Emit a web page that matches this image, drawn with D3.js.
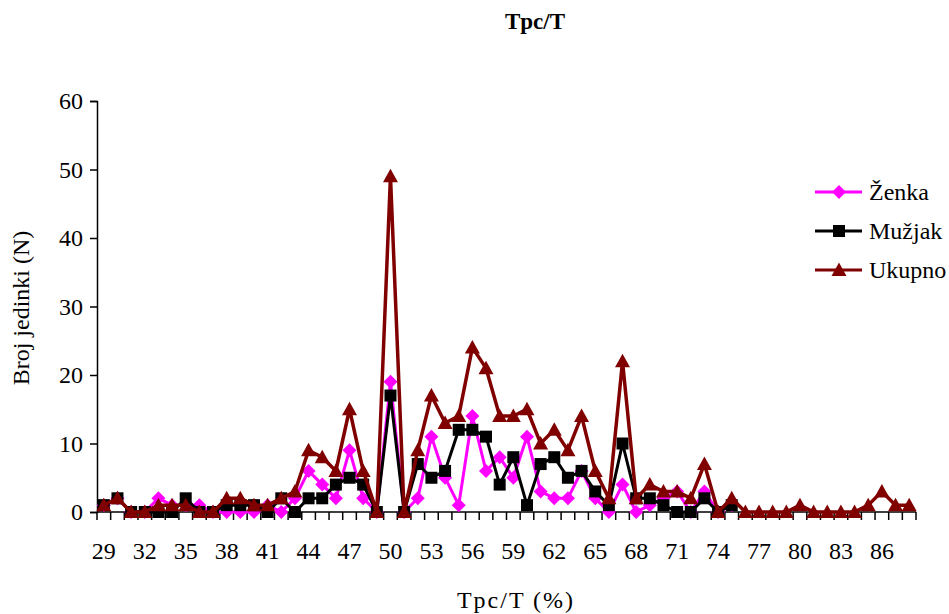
<!DOCTYPE html>
<html>
<head>
<meta charset="utf-8">
<script src="https://cdn.jsdelivr.net/npm/d3@7/dist/d3.min.js"></script>
<style>
body { margin: 0; background: #fff; }
svg { display: block; font-family: "Liberation Serif", "Times New Roman", serif; }
</style>
</head>
<body>
<svg id="chart" width="949" height="614"></svg>
<script>
// categories on the x axis (Tpc/T in %)
const categories = [29, 30, 31, 32, 33, 34, 35, 36, 37, 38, 39, 40, 41, 42, 43, 44, 45, 46, 47, 48,
	49, 50, 51, 52, 53, 54, 55, 56, 57, 58, 59, 60, 61, 62, 63, 64, 65, 66, 67, 68,
	69, 70, 71, 72, 73, 74, 75, 76, 77, 78, 79, 80, 81, 82, 83, 84, 85, 86, 87, 88]
const xLabels = [29, 32, 35, 38, 41, 44, 47, 50, 53, 56, 59, 62, 65, 68, 71, 74, 77, 80, 83, 86]
const yTicks = [0, 10, 20, 30, 40, 50, 60]

// null = no value for that class
const zenka = [1, 2, 0, 0, 2, 1, 1, 1, 0, 0, 0, 0, 1, 0, 2, 6, 4, 2, 9, 2,
	0, 19, 0, 2, 11, 5, 1, 14, 6, 8, 5, 11, 3, 2, 2, 6, 2, 0, 4, 0,
	1, 2, 3, 0, 3, 0, 1, null, null, null, null, null, null, null, null, null, null, null, null, null]
const muzjak = [1, 2, 0, 0, 0, 0, 2, 0, 0, 1, 1, 1, 0, 2, 0, 2, 2, 4, 5, 4,
	0, 17, 0, 7, 5, 6, 12, 12, 11, 4, 8, 1, 7, 8, 5, 6, 3, 1, 10, 2,
	2, 1, 0, 0, 2, 0, 1, null, null, null, null, null, null, null, null, null, null, null, null, null]
const ukupno = [1, 2, 0, 0, 1, 1, 1, 0, 0, 2, 2, 1, 1, 2, 3, 9, 8, 6, 15, 6,
	0, 49, 0, 9, 17, 13, 14, 24, 21, 14, 14, 15, 10, 12, 9, 14, 6, 2, 22, 2,
	4, 3, 3, 2, 7, 0, 2, 0, 0, 0, 0, 1, 0, 0, 0, 0, 1, 3, 1, 1]

const series = [
	{ name: 'Ženka', values: zenka, color: '#ff00ff', marker: 'diamond', width: 3 },
	{ name: 'Mužjak', values: muzjak, color: '#000000', marker: 'square', width: 3 },
	{ name: 'Ukupno', values: ukupno, color: '#800000', marker: 'triangle', width: 3.5 }
]

const svg = d3.select('#chart')
const pLeft = 97, pRight = 916, pTop = 101, pBottom = 512

let x = d3.scaleBand().domain(categories).range([pLeft, pRight]).padding(0)
let y = d3.scaleLinear().domain([0, 60]).range([pBottom, pTop])

const markerPath = {
	diamond: 'M0,-7L7,0L0,7L-7,0Z',
	square: 'M-6,-6L6,-6L6,6L-6,6Z',
	triangle: 'M0,-7.5L7.5,6L-7.5,6Z'
}

// title
svg.append('text')
.attr('x', 535).attr('y', 29)
.attr('text-anchor', 'middle')
.attr('font-size', 23).attr('font-weight', 'bold')
.text('Tpc/T')

// y axis
let yAxis = svg.append('g')
.attr('transform', `translate(${pLeft},0)`)
.call(d3.axisLeft(y).tickValues(yTicks).tickSize(7).tickPadding(7))
yAxis.select('.domain').attr('stroke', '#000').attr('stroke-width', 1.5)
yAxis.selectAll('.tick line').attr('stroke', '#000').attr('stroke-width', 1.5)
yAxis.selectAll('text').attr('font-size', 24).attr('font-family', 'Liberation Serif').attr('fill', '#000')

// x axis labels every third class
let xAxis = svg.append('g')
.attr('transform', `translate(0,${pBottom})`)
.call(d3.axisBottom(x).tickValues(xLabels).tickSize(0).tickPadding(30))
xAxis.select('.domain').remove()
xAxis.selectAll('text').attr('font-size', 24).attr('font-family', 'Liberation Serif').attr('fill', '#000')

// x axis line + tick marks between classes
svg.append('line')
.attr('x1', pLeft).attr('x2', pRight)
.attr('y1', pBottom).attr('y2', pBottom)
.attr('stroke', '#000').attr('stroke-width', 1.5)

svg.append('g').selectAll('line')
.data(categories.map(c => x(c)).concat([x.range()[1]]))
.enter().append('line')
.attr('x1', d => d).attr('x2', d => d)
.attr('y1', pBottom).attr('y2', pBottom + 8)
.attr('stroke', '#000').attr('stroke-width', 1.5)

// axis titles
svg.append('text')
.attr('x', 516).attr('y', 608)
.attr('text-anchor', 'middle')
.attr('font-size', 24)
.attr('letter-spacing', 2)
.text('Tpc/T (%)')

svg.append('text')
.attr('transform', 'translate(29,308) rotate(-90)')
.attr('text-anchor', 'middle')
.attr('font-size', 24)
.text('Broj jedinki (N)')

// series lines and markers
let line = d3.line()
.defined(d => d.v !== null)
.x(d => x(d.c) + x.bandwidth() / 2)
.y(d => y(d.v))

series.forEach(s => {
	let pts = categories.map((c, i) => ({ c: c, v: s.values[i] }))
	let g = svg.append('g')
	g.append('path')
	.datum(pts)
	.attr('d', line)
	.attr('fill', 'none')
	.attr('stroke', s.color)
	.attr('stroke-width', s.width)
	.attr('stroke-linejoin', 'miter')

	g.selectAll('path.mk')
	.data(pts.filter(d => d.v !== null)).enter()
	.append('path').attr('class', 'mk')
	.attr('d', markerPath[s.marker])
	.attr('transform', d => `translate(${x(d.c) + x.bandwidth() / 2},${y(d.v)})`)
	.attr('fill', s.color)
})

// legend
let legend = svg.append('g')
let items = legend.selectAll('g')
.data(series).enter().append('g')
.attr('transform', (d, i) => `translate(815,${192 + i * 39})`)

items.append('line')
.attr('x1', 0).attr('x2', 47)
.attr('stroke', d => d.color).attr('stroke-width', 3)

items.append('path')
.attr('d', d => markerPath[d.marker])
.attr('transform', 'translate(24,0)')
.attr('fill', d => d.color)

items.append('text')
.attr('x', 54).attr('y', 8)
.attr('font-size', 24)
.text(d => d.name)
</script>
</body>
</html>
